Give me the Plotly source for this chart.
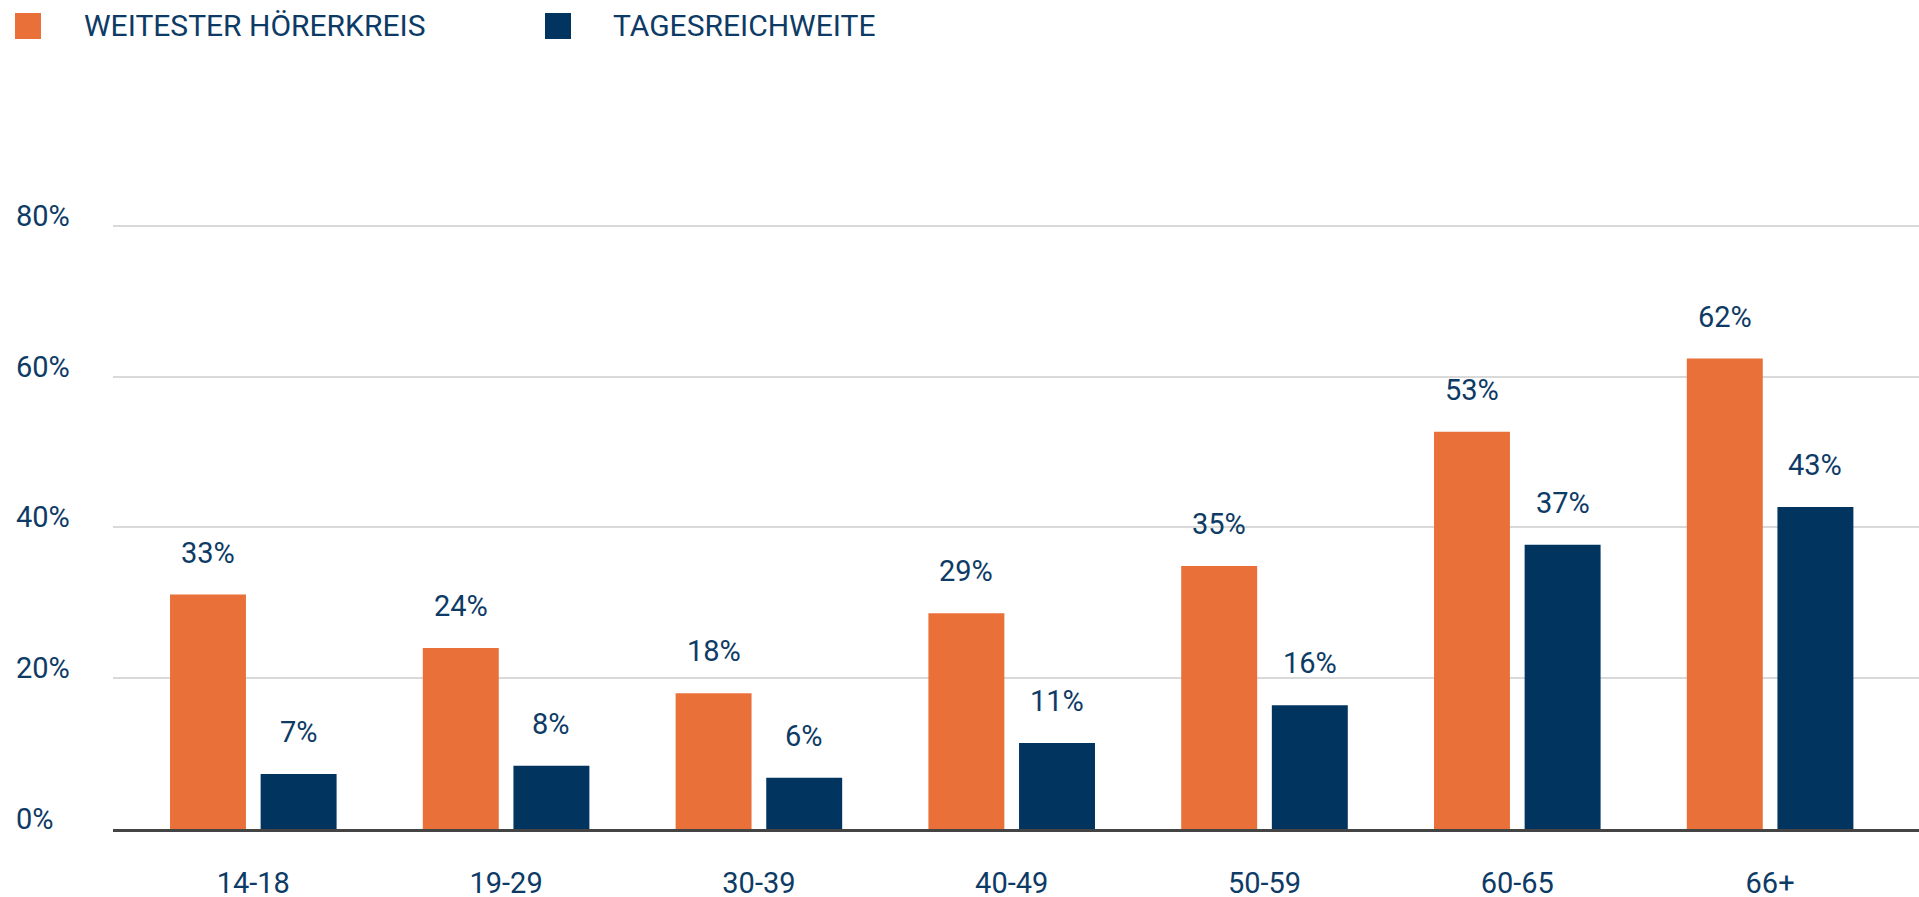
import plotly.graph_objects as go

# ---- data ----
categories = ["14-18", "19-29", "30-39", "40-49", "50-59", "60-65", "66+"]
series_names = ["WEITESTER HÖRERKREIS", "TAGESREICHWEITE"]
weitester = [31.1, 24.0, 18.0, 28.6, 34.9, 52.7, 62.4]
tages = [7.3, 8.4, 6.8, 11.4, 16.4, 37.7, 42.7]
weitester_labels = ["33%", "24%", "18%", "29%", "35%", "53%", "62%"]
tages_labels = ["7%", "8%", "6%", "11%", "16%", "37%", "43%"]
y_ticks = [0, 20, 40, 60, 80]
y_tick_labels = ["0%", "20%", "40%", "60%", "80%"]

# ---- style ----
ORANGE = "#EA7039"
NAVY = "#01355F"
TEXT = "#0D3B66"
FONT = "Roboto"
W, H = 1919, 897
ML, MR, MT, MB = 113, 0, 207, 68
PW, PH = W - ML - MR, H - MT - MB
BARGAP, GROUPGAP = 0.283, 0.162
XRANGE = [-0.555, 6.589]
YRANGE = [0, 82.5]


def px_to_paper_x(px):
    return (px - ML) / PW


def px_to_paper_y(py):
    return (H - MB - py) / PH


fig = go.Figure()
fig.add_bar(x=categories, y=weitester, name=series_names[0],
            marker=dict(color=ORANGE, line=dict(width=0)), showlegend=False)
fig.add_bar(x=categories, y=tages, name=series_names[1],
            marker=dict(color=NAVY, line=dict(width=0)), showlegend=False)

annotations = []
offset = (1 - BARGAP) / 4
for i, (v, lab) in enumerate(zip(weitester, weitester_labels)):
    annotations.append(dict(x=i - offset, y=v, xref="x", yref="y", text=lab,
                            showarrow=False, xanchor="center", yanchor="bottom",
                            yshift=23, font=dict(family=FONT, size=29, color=TEXT)))
for i, (v, lab) in enumerate(zip(tages, tages_labels)):
    annotations.append(dict(x=i + offset, y=v, xref="x", yref="y", text=lab,
                            showarrow=False, xanchor="center", yanchor="bottom",
                            yshift=23, font=dict(family=FONT, size=29, color=TEXT)))

# y tick labels, left aligned
for t, lab in zip(y_ticks, y_tick_labels):
    annotations.append(dict(x=px_to_paper_x(14), y=t, xref="paper", yref="y",
                            text=lab, showarrow=False, xanchor="left",
                            yanchor="middle", yshift=10,
                            font=dict(family=FONT, size=29, color=TEXT)))

# manual legend
shapes = []
legend_items = [(series_names[0], ORANGE, 15, 82), (series_names[1], NAVY, 545, 611)]
for name, col, sq_x, tx in legend_items:
    shapes.append(dict(type="rect", xref="paper", yref="paper",
                       x0=px_to_paper_x(sq_x), x1=px_to_paper_x(sq_x + 26),
                       y0=px_to_paper_y(39), y1=px_to_paper_y(13),
                       fillcolor=col, line=dict(width=0), layer="above"))
    annotations.append(dict(x=px_to_paper_x(tx), y=px_to_paper_y(25),
                            xref="paper", yref="paper", text=name,
                            showarrow=False, xanchor="left", yanchor="middle",
                            font=dict(family=FONT, size=30, color=TEXT)))

fig.update_layout(
    width=W, height=H,
    margin=dict(l=ML, r=MR, t=MT, b=MB, pad=0, autoexpand=False),
    paper_bgcolor="white", plot_bgcolor="white",
    barmode="group", bargap=BARGAP, bargroupgap=GROUPGAP,
    showlegend=False,
    annotations=annotations, shapes=shapes,
    font=dict(family=FONT, color=TEXT),
)
fig.update_xaxes(type="category", range=XRANGE, showline=True, linecolor="#444444",
                 linewidth=3, ticks="", showgrid=False, zeroline=False,
                 automargin=False,
                 tickfont=dict(family=FONT, size=29, color=TEXT),
                 ticklabelstandoff=26)
fig.update_yaxes(range=YRANGE, tickvals=y_ticks, showticklabels=False,
                 automargin=False,
                 showgrid=True, gridcolor="#D9D9D9", gridwidth=2,
                 zeroline=False, showline=False, ticks="")

fig.write_html(
    "out.html",
    config={"displayModeBar": False},
    post_script="document.body.style.margin='0';document.body.style.overflow='hidden';",
)
